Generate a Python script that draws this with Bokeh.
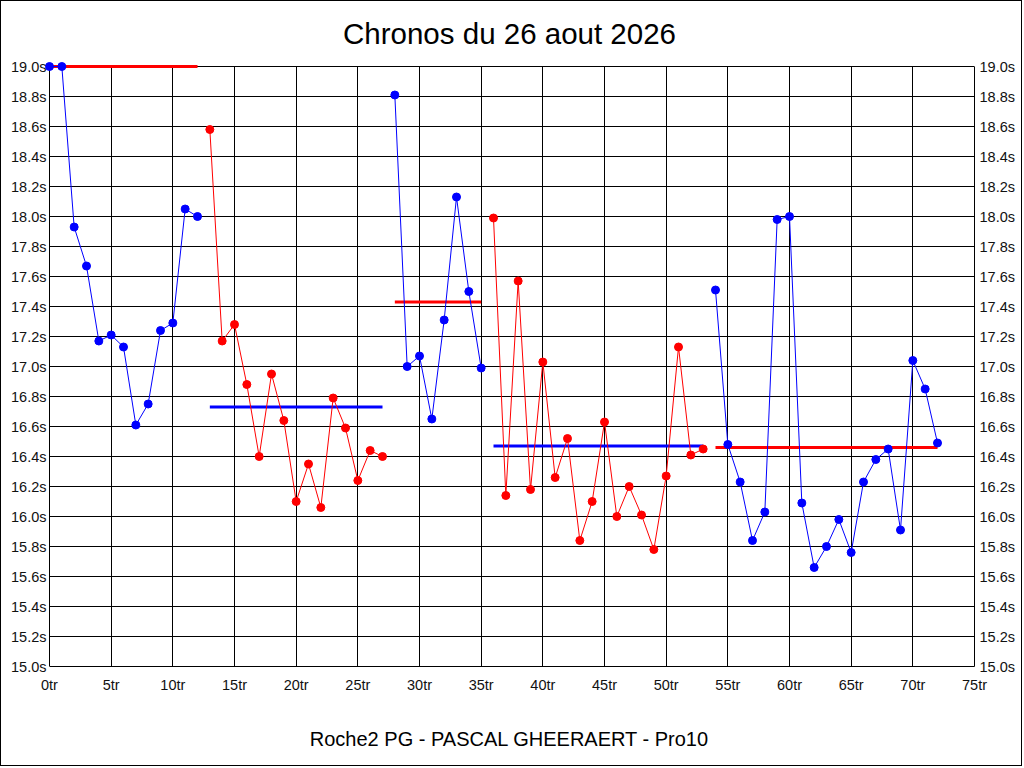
from bokeh.plotting import figure
from bokeh.models import Range1d, LinearAxis, FixedTicker, PrintfTickFormatter
from bokeh.embed import file_html
from bokeh.resources import INLINE

title_text = "Chronos du 26 aout 2026"
footer_text = "Roche2 PG - PASCAL GHEERAERT - Pro10"

x_ticks = [0, 5, 10, 15, 20, 25, 30, 35, 40, 45, 50, 55, 60, 65, 70, 75]
y_ticks = [15.0, 15.2, 15.4, 15.6, 15.8, 16.0, 16.2, 16.4, 16.6, 16.8,
           17.0, 17.2, 17.4, 17.6, 17.8, 18.0, 18.2, 18.4, 18.6, 18.8, 19.0]

# series (lap number, time in seconds)
s1_x = list(range(0, 13))
s1_y = [19.0, 19.0, 17.93, 17.67, 17.17, 17.21, 17.13, 16.61, 16.75, 17.24, 17.29, 18.05, 18.00]
s2_x = list(range(13, 28))
s2_y = [18.58, 17.17, 17.28, 16.88, 16.40, 16.95, 16.64, 16.10, 16.35, 16.06, 16.79, 16.59, 16.24, 16.44, 16.40]
s3_x = list(range(28, 36))
s3_y = [18.81, 17.00, 17.07, 16.65, 17.31, 18.13, 17.50, 16.99]
s4_x = list(range(36, 54))
s4_y = [17.99, 16.14, 17.57, 16.18, 17.03, 16.26, 16.52, 15.84, 16.10, 16.63, 16.00, 16.20,
        16.01, 15.78, 16.27, 17.13, 16.41, 16.45]
s5_x = list(range(54, 73))
s5_y = [17.51, 16.48, 16.23, 15.84, 16.03, 17.98, 18.00, 16.09, 15.66, 15.80, 15.98, 15.76,
        16.23, 16.38, 16.45, 15.91, 17.04, 16.85, 16.49]

series_colors = ["#0000FF", "#FF0000", "#0000FF", "#FF0000", "#0000FF"]

# reference level lines per session: start lap, end lap, level
ref_start = [0, 13, 28, 36, 54]
ref_end = [12, 27, 35, 53, 72]
ref_level = [19.0, 16.73, 17.43, 16.47, 16.46]
ref_colors = ["#FF0000", "#0000FF", "#FF0000", "#0000FF", "#FF0000"]

series = [(s1_x, s1_y), (s2_x, s2_y), (s3_x, s3_y), (s4_x, s4_y), (s5_x, s5_y)]

FONT = "Liberation Sans"

X_MIN, X_MAX = 0, 75
Y_MIN, Y_MAX = 15.0, 19.0
# small padding (left/top) so marks lying on the 0tr / 19.0s lines are not clipped
X_PAD = 5 / 12.3333
Y_PAD = 5 / 150.0

p = figure(width=1022, height=766, output_backend="svg", toolbar_location=None,
           x_range=Range1d(X_MIN - X_PAD, X_MAX), y_range=Range1d(Y_MIN, Y_MAX + Y_PAD),
           min_border_left=43, min_border_right=49, min_border_top=60, min_border_bottom=101,
           background_fill_color="white", border_fill_color="white")
p.outline_line_color = None

p.title.text = title_text
p.title.align = "center"
p.title.text_font = FONT
p.title.text_font_size = "29.5px"
p.title.text_font_style = "normal"
p.title.text_color = "black"
p.title.standoff = 23

yfmt = PrintfTickFormatter(format="%.1fs")
xfmt = PrintfTickFormatter(format="%dtr")

p.xaxis.ticker = FixedTicker(ticks=x_ticks)
p.xaxis.formatter = xfmt
p.yaxis.ticker = FixedTicker(ticks=y_ticks)
p.yaxis.formatter = yfmt

right = LinearAxis(ticker=FixedTicker(ticks=y_ticks), formatter=yfmt)
p.add_layout(right, "right")

for ax in [p.xaxis[0], p.yaxis[0], right]:
    ax.major_tick_out = 0
    ax.major_tick_in = 0
    ax.minor_tick_out = 0
    ax.minor_tick_in = 0
    ax.axis_line_color = "black"
    ax.axis_line_width = 1
    ax.major_label_text_font = FONT
    ax.major_label_text_font_size = "14.5px"
    ax.major_label_text_color = "#111111"

p.xaxis.bounds = (X_MIN, X_MAX)
right.bounds = (Y_MIN, Y_MAX)
p.yaxis[0].axis_line_color = None

p.xaxis.major_label_standoff = 10
p.yaxis.major_label_standoff = -2
right.major_label_standoff = 5

p.xaxis.axis_label = footer_text
p.xaxis.axis_label_text_font = FONT
p.xaxis.axis_label_text_font_size = "20px"
p.xaxis.axis_label_text_font_style = "normal"
p.xaxis.axis_label_text_color = "black"
p.xaxis.axis_label_standoff = 32

p.xgrid.ticker = FixedTicker(ticks=x_ticks)
p.ygrid.ticker = FixedTicker(ticks=y_ticks)
p.xgrid.bounds = (X_MIN - 1, X_MAX + 1)
p.ygrid.bounds = (Y_MIN - 1, Y_MAX + 1)
p.xgrid.cross_bounds = (Y_MIN, Y_MAX)
p.ygrid.cross_bounds = (X_MIN, X_MAX)
p.grid.grid_line_color = "black"
p.grid.grid_line_alpha = 1.0
p.grid.grid_line_width = 1

for x0, x1, lvl, c in zip(ref_start, ref_end, ref_level, ref_colors):
    p.line([x0, x1], [lvl, lvl], line_color=c, line_width=3)

for (xs, ys), c in zip(series, series_colors):
    p.line(xs, ys, line_color=c, line_width=1)
    p.scatter(xs, ys, marker="circle", size=8, fill_color=c, line_color=c)

p.styles = {"border": "1px solid black"}

open("out.html", "w").write(file_html(p, INLINE))
